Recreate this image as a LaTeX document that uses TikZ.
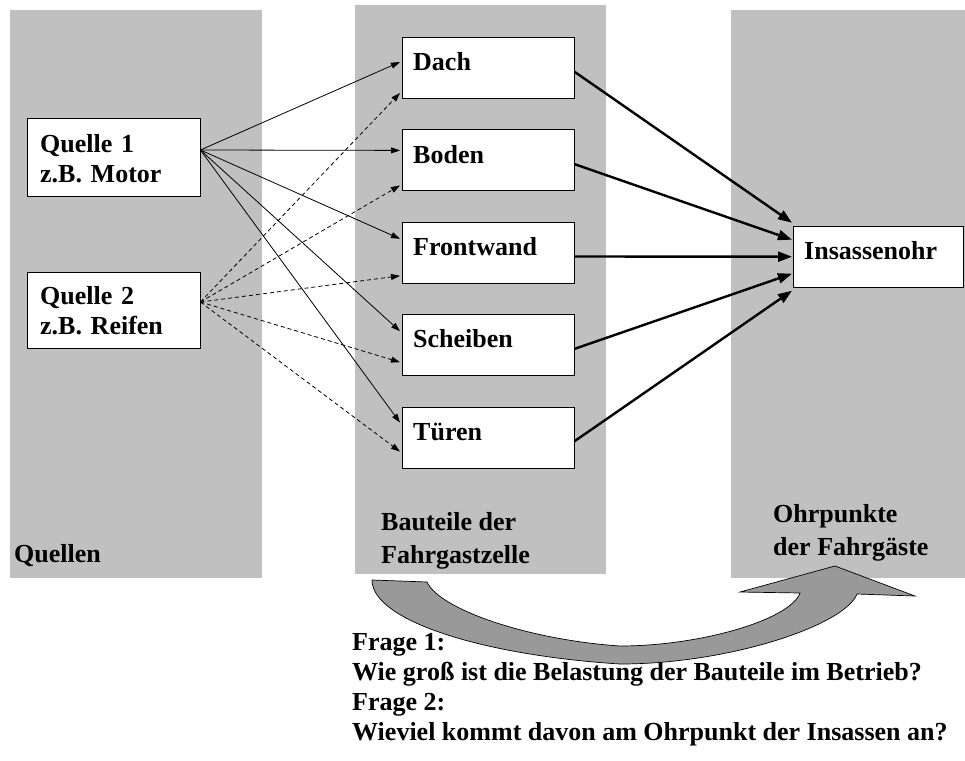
\documentclass[tikz,border=0pt]{standalone}
\usepackage{fontspec}
\setmainfont{Liberation Serif}
\usetikzlibrary{arrows.meta,positioning,calc}
\definecolor{panelgray}{HTML}{C0C0C0}
\definecolor{arrowgray}{HTML}{999999}

\begin{document}
\begin{tikzpicture}[x=1pt,y=-1pt,>={Triangle[length=9pt,width=6pt]},
every node/.style={font=\fontsize{26}{30}\selectfont\bfseries},
src/.style={draw,fill=white,anchor=north west,minimum width=173pt,
text width=147pt,inner xsep=13pt,inner ysep=0pt,text height=34pt,
text depth=44pt,align=left},
part/.style={draw,fill=white,minimum width=172pt,text width=150pt,
inner xsep=11pt,inner ysep=1.5pt,text height=32pt,text depth=26pt,align=left},
tag/.style={anchor=base west,inner sep=0pt,align=left,
font=\fontsize{26}{33}\selectfont\bfseries},
flow/.style={->,line width=0.8pt},
noise/.style={->,line width=0.8pt,dash pattern=on 4pt off 3pt},
heavy/.style={->,line width=2.4pt,>={Triangle[length=14pt,width=10pt]}}]
\useasboundingbox (0,0) rectangle (965,760);
% grey columns
\fill[panelgray] (10,10) rectangle (262,578);
\fill[panelgray] (355,5) rectangle (606,574);
\fill[panelgray] (731,10) rectangle (965,578);
\node[tag] (srclabel) at (14,562) {Quellen};
\node[tag] (partlabel) at (381,563) {Bauteile der\\Fahrgastzelle};
\node[tag] (earlabel) at (773,555) {Ohrpunkte\\der Fahrgäste};
% big curved arrow
\draw[fill=arrowgray,line width=0.7pt] (372,580)
  .. controls (372,620) and (480,655) .. (620,664)
  .. controls (730,664) and (845,625) .. (857,594)
  -- (915,596) -- (835,566) -- (740,592) -- (800,593)
  .. controls (790,620) and (700,646) .. (620,646)
  .. controls (530,640) and (440,610) .. (427,582) -- cycle;
% boxes
\node[src] (q1) at (27,118) {Quelle 1\\z.B. Motor};
\node[src,text height=32pt] (q2) at (27,272) {Quelle 2\\z.B. Reifen};
\node[part,anchor=north west] (dach) at (402,37) {Dach};
\node[part,below=31pt of dach] (boden) {Boden};
\node[part,below=31pt of boden] (frontwand) {Frontwand};
\node[part,below=31pt of frontwand] (scheiben) {Scheiben};
\node[part,below=31pt of scheiben] (tueren) {Türen};
\node[part,anchor=north west,minimum width=170pt,text width=148pt] (ear) at (793,226) {Insassenohr};
% paths
\coordinate (q1out) at ($(q1.north east)+(0,32)$);
\coordinate (q2out) at ($(q2.north east)+(0,30)$);
\foreach \p/\a/\b in {dach/25/56,boden/21/56,frontwand/17/54,scheiben/17/48,tueren/16/45}{
  \draw[flow] (q1out) -- ($(\p.north west)+(-2,\a)$);
  \draw[noise] (q2out) -- ($(\p.north west)+(-2,\b)$);
}
\foreach \p/\d in {dach/-34,boden/-17,frontwand/0,scheiben/17,tueren/34}
  \draw[heavy] ($(\p.east)+(0,4)$) -- ($(ear.west)+(-1,\d)$);
% questions
\node[tag,font=\fontsize{26}{30}\selectfont\bfseries] (questions) at (352,740)
  {Frage 1:\\Wie groß ist die Belastung der Bauteile im Betrieb?\\Frage 2:\\Wieviel kommt davon am Ohrpunkt der Insassen an?};
\end{tikzpicture}
\end{document}
